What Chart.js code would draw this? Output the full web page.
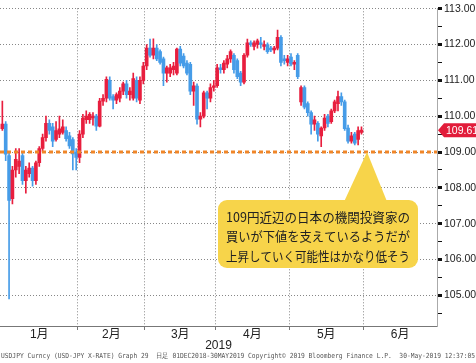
<!DOCTYPE html>
<html>
<head>
<meta charset="utf-8">
<style>html,body{margin:0;padding:0;background:#fff}canvas{display:block}</style>
<script src="https://cdn.jsdelivr.net/npm/chart.js@4.4.1/dist/chart.umd.min.js"></script>
</head>
<body>
<canvas id="chart" width="476" height="363"></canvas>
<script>
// USD/JPY daily candles, 2019-01-01 .. 2019-05-30 (one slot per weekday)
const opens = [109.65,109.78,108.90,107.70,108.50,108.60,108.90,108.20,108.40,108.55,108.20,108.70,109.10,109.40,109.80,109.70,109.35,109.50,109.55,109.60,109.45,109.35,109.00,
  108.85,109.50,109.90,109.90,109.95,110.00,109.72,110.42,110.50,111.00,110.55,110.45,110.50,110.70,110.90,110.60,110.50,111.00,110.45,111.00,
  111.40,111.90,111.70,111.90,111.80,111.60,111.20,111.20,111.30,111.20,111.87,111.68,111.48,111.45,110.70,110.84,109.92,110.00,110.65,110.50,110.80,
  110.85,111.35,111.30,111.45,111.60,111.70,111.55,111.20,110.95,111.70,112.05,111.95,112.00,112.05,111.95,112.00,111.90,111.85,111.90,112.20,111.60,111.50,
  111.65,111.45,111.70,110.40,110.80,110.35,110.10,109.78,109.80,109.45,109.67,110.00,109.85,110.15,110.35,110.55,110.40,109.67,109.30,109.50,109.35,109.55];
const highs = [110.42,109.85,109.00,108.60,109.10,109.10,109.00,108.60,108.70,108.60,108.75,109.15,109.50,110.00,109.90,109.80,109.85,110.00,109.90,109.70,109.55,109.40,109.10,
  109.60,110.05,110.15,110.10,110.10,110.05,110.50,110.60,111.10,111.10,110.60,110.65,110.80,110.95,111.00,110.80,111.20,111.10,111.10,111.50,
  112.00,112.15,112.16,112.00,111.85,111.65,111.40,111.45,111.50,111.90,111.95,111.75,111.55,111.50,110.95,110.90,110.10,110.70,110.70,110.90,111.00,
  111.45,111.45,111.55,111.70,111.85,111.75,111.60,111.25,111.75,112.15,112.10,112.10,112.15,112.20,112.10,112.05,111.95,111.95,112.40,112.25,111.70,111.70,
  111.75,111.55,111.75,110.85,110.85,110.40,110.15,110.00,109.85,109.70,110.05,110.05,110.20,110.45,110.70,110.65,110.45,109.75,109.55,109.55,109.70,109.70];
const lows = [109.60,108.76,104.90,107.55,108.30,108.40,108.10,107.85,108.30,108.05,108.10,108.60,109.00,109.30,109.50,109.15,109.30,109.40,109.50,109.30,109.10,108.50,108.50,
  108.70,109.40,109.80,109.80,109.75,109.60,109.70,110.30,110.40,110.45,110.20,110.35,110.40,110.60,110.50,110.45,110.45,110.40,110.35,110.90,
  111.30,111.65,111.60,111.55,111.45,110.85,110.95,111.10,111.15,111.15,111.40,111.35,111.15,110.60,110.30,109.78,109.70,109.95,110.20,110.40,110.70,
  110.80,111.20,111.20,111.35,111.50,111.20,111.05,110.85,110.90,111.65,111.95,111.85,111.90,111.90,111.85,111.75,111.80,111.75,111.85,111.40,111.45,111.40,
  111.40,111.30,111.05,110.30,110.20,110.00,109.50,109.60,109.30,109.15,109.60,109.70,109.80,110.10,110.15,110.30,109.60,109.25,109.25,109.20,109.20,109.50];
const closes = [109.78,108.94,107.65,108.50,108.80,108.75,108.20,108.50,108.55,108.20,108.70,109.10,109.40,109.80,109.60,109.30,109.60,109.65,109.70,109.37,109.17,108.95,108.85,
  109.50,109.95,110.00,110.05,110.00,109.72,110.42,110.50,111.03,110.50,110.45,110.60,110.70,110.90,110.60,110.70,111.05,110.50,111.00,111.40,
  111.90,111.70,111.90,111.60,111.50,111.20,111.35,111.35,111.40,111.87,111.48,111.40,111.20,110.70,110.85,109.92,110.00,110.65,110.50,110.80,110.85,
  111.35,111.30,111.48,111.60,111.80,111.30,111.10,110.95,111.70,112.05,112.00,112.05,112.10,112.00,112.00,111.80,111.85,111.90,112.20,111.50,111.55,111.60,
  111.45,111.50,111.10,110.80,110.25,110.10,109.78,109.90,109.50,109.67,109.95,109.80,110.15,110.40,110.55,110.40,109.65,109.30,109.45,109.25,109.60,109.61];

const monthStarts = [0, 23, 43, 64, 86, 108, 130];
const monthLabels = ['1月', '2月', '3月', '4月', '5月', '6月'];
const yMajor = [105, 106, 107, 108, 109, 110, 111, 112, 113];
const yMinor = [104.5, 105.5, 106.5, 107.5, 108.5, 109.5, 110.5, 111.5, 112.5];
const supportLevel = 109;
const yearLabel = '2019';
const noteLines = ['109円近辺の日本の機関投資家の', '買いが下値を支えているようだが', '上昇していく可能性はかなり低そう'];
const footer = 'USDJPY Curncy (USD-JPY X-RATE) Graph 29  日足 01DEC2018-30MAY2019 Copyright© 2019 Bloomberg Finance L.P.  30-May-2019 12:37:05';

const UP = 'rgb(232,30,62)';
const DOWN = 'rgb(70,156,232)';
const GRID = 'rgb(135,135,135)';
const candleColors = closes.map((c, i) => c >= opens[i] ? UP : DOWN);
const wicks = lows.map((l, i) => ({x: i + 0.5, y: [l, highs[i]]}));
const bodies = opens.map((o, i) => ({x: i + 0.5, y: [Math.min(o, closes[i]), Math.max(o, closes[i])]}));

const boundaries = monthStarts.slice(1, -1);
const mids = monthLabels.map((_, i) => (monthStarts[i] + monthStarts[i + 1]) / 2);
const isMajor = v => yMajor.includes(v);

const overlay = {
  id: 'overlay',
  afterDatasetsDraw(chart) {
    const ctx = chart.ctx;
    const ys = chart.scales.y;
    // callout
    const tipY = ys.getPixelForValue(supportLevel);
    ctx.save();
    ctx.fillStyle = 'rgb(247,212,74)';
    ctx.beginPath();
    ctx.moveTo(367, tipY);
    ctx.lineTo(388, 204);
    ctx.lineTo(343, 204);
    ctx.closePath();
    ctx.fill();
    ctx.beginPath();
    ctx.roundRect(218, 200, 200, 68, 9);
    ctx.fill();
    ctx.fillStyle = '#222';
    ctx.font = '13px "Noto Sans CJK JP"';
    ctx.textAlign = 'center';
    ctx.textBaseline = 'middle';
    noteLines.forEach((t, i) => ctx.fillText(t, 318, 217 + i * 19.5, 184));
    // last price tag
    const last = closes[closes.length - 1];
    const py = ys.getPixelForValue(last);
    ctx.fillStyle = 'rgb(226,28,58)';
    ctx.beginPath();
    ctx.moveTo(438, py);
    ctx.lineTo(444, py - 7);
    ctx.lineTo(476, py - 7);
    ctx.lineTo(476, py + 7);
    ctx.lineTo(444, py + 7);
    ctx.closePath();
    ctx.fill();
    ctx.fillStyle = '#fff';
    ctx.font = '10.5px "Liberation Sans"';
    ctx.textAlign = 'left';
    ctx.fillText(last.toFixed(2), 446, py + 0.5);
    ctx.restore();
  },
  afterDraw(chart) {
    const ctx = chart.ctx;
    ctx.save();
    ctx.fillStyle = '#222';
    ctx.font = '12px "Liberation Sans"';
    ctx.textAlign = 'center';
    ctx.textBaseline = 'middle';
    ctx.fillText(yearLabel, (chart.chartArea.left + chart.chartArea.right) / 2, 346);
    ctx.fillStyle = '#555';
    ctx.font = '7px "DejaVu Sans Mono"';
    ctx.textAlign = 'left';
    ctx.fillText(footer, 1, 356, 474);
    ctx.restore();
  }
};

new Chart(document.getElementById('chart'), {
  type: 'bar',
  data: {
    datasets: [
      {
        type: 'line',
        data: [{x: -0.2, y: supportLevel}, {x: 130, y: supportLevel}],
        borderColor: 'rgb(240,134,40)',
        borderWidth: 3,
        borderDash: [4, 3],
        pointRadius: 0,
        order: 0
      },
      {
        data: bodies,
        backgroundColor: candleColors,
        barThickness: 3,
        minBarLength: 1,
        grouped: false,
        order: 1
      },
      {
        data: wicks,
        backgroundColor: candleColors,
        barThickness: 1,
        grouped: false,
        order: 2
      }
    ]
  },
  options: {
    responsive: false,
    animation: false,
    devicePixelRatio: 1,
    layout: {padding: 0},
    plugins: {legend: {display: false}, tooltip: {enabled: false}},
    scales: {
      x: {
        type: 'linear',
        offset: false,
        min: -0.2,
        max: 130,
        afterBuildTicks: s => { s.ticks = boundaries.concat(mids).sort((a, b) => a - b).map(v => ({value: v})); },
        afterFit: s => { s.height = 37; },
        grid: {
          offset: false,
          color: c => boundaries.includes(c.tick && c.tick.value) ? GRID : 'rgba(0,0,0,0)',
          tickColor: c => boundaries.includes(c.tick && c.tick.value) ? '#777' : 'rgba(0,0,0,0)',
          tickLength: 4
        },
        border: {color: '#777', dash: [1, 2]},
        ticks: {
          autoSkip: false, maxRotation: 0, minRotation: 0, padding: -3,
          color: '#222',
          font: {family: '"Liberation Sans", "Noto Sans CJK JP"', size: 12},
          callback: v => { const i = mids.indexOf(v); return i >= 0 ? monthLabels[i] : ''; }
        }
      },
      y: {
        position: 'right',
        min: 104.147,
        max: 113.01,
        afterBuildTicks: s => { s.ticks = yMinor.concat(yMajor).sort((a, b) => a - b).map(v => ({value: v})); },
        afterFit: s => { s.width = 39; },
        grid: {
          color: c => isMajor(c.tick && c.tick.value) ? GRID : 'rgba(0,0,0,0)',
          tickColor: '#111',
          tickWidth: c => isMajor(c.tick && c.tick.value) ? 3 : 1,
          tickLength: 5
        },
        border: {color: '#aaa', dash: [1, 2]},
        ticks: {
          autoSkip: false, padding: 2,
          color: '#222',
          font: {family: '"Liberation Sans"', size: 10.5},
          callback: v => isMajor(v) ? v.toFixed(2) : ''
        }
      }
    }
  },
  plugins: [overlay]
});
</script>
</body>
</html>
